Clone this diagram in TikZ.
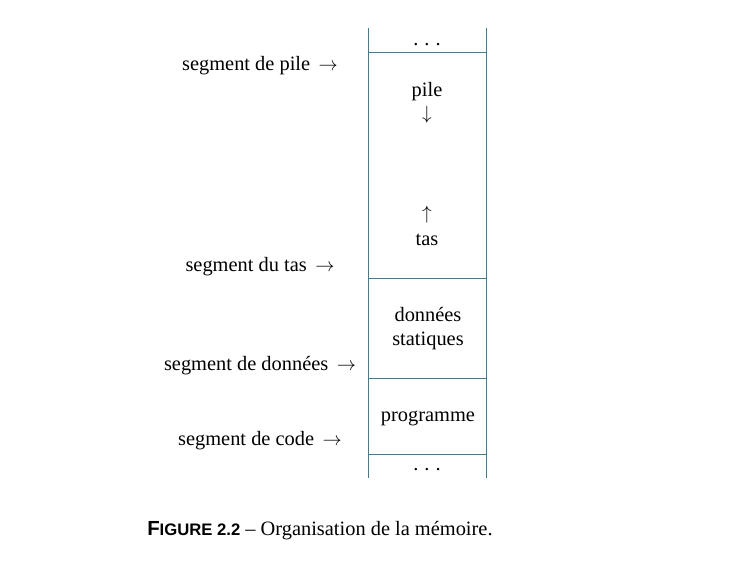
\documentclass[tikz,border=0pt]{standalone}
\usepackage{fontspec}
\setmainfont{Liberation Serif}
\setsansfont{Liberation Sans}
\usetikzlibrary{positioning}
\definecolor{memline}{HTML}{3F7C96}

\newcommand{\memdots}{.\hspace{4.5pt}.\hspace{4.5pt}.}

\begin{document}
\begin{tikzpicture}[x=0.75pt, y=-0.75pt,
  cell/.style={font=\fontsize{15.3}{18}\selectfont, align=center,
               inner sep=0pt, anchor=base},
  seg/.style={font=\fontsize{15.3}{18}\selectfont, inner sep=0pt, anchor=base},
  wall/.style={draw=memline, line width=0.7pt},
]
  \useasboundingbox (0,0) rectangle (754,561);

  %% Column of memory
  \coordinate (tl) at (368,28);  \coordinate (tr) at (486,28);
  \coordinate (bl) at (368,478); \coordinate (br) at (486,478);
  \draw[wall] (tl) -- (bl);
  \draw[wall] (tr) -- (br);
  \foreach \y in {52,278,378,454}
    \draw[wall] (368,\y) -- (486,\y);

  %% Contents of the cells
  \node[cell] (dtop)  at (427,45)  {\memdots};
  \node[cell] (pile)  at (427,96)  {pile};
  \node[cell] (down)  at (427,119) {$\downarrow$};
  \node[cell] (up)    at (427,219) {$\uparrow$};
  \node[cell] (tas)   at (427,245) {tas};
  \node[cell] (data)  at (428,321) {données};
  \node[cell] (stat)  at (428,345) {statiques};
  \node[cell] (prog)  at (428,421) {programme};
  \node[cell] (dbot)  at (427,470) {\memdots};

  %% Segment labels
  \node[seg] (spile) at (260,70)  {segment de pile \,$\rightarrow$};
  \node[seg] (stas)  at (260,271) {segment du tas \,$\rightarrow$};
  \node[seg] (sdata) at (260,370) {segment de données \,$\rightarrow$};
  \node[seg] (scode) at (260,445) {segment de code \,$\rightarrow$};

  %% Caption
  \node[seg, anchor=base west] (cap) at (147,535)
    {{\sffamily\bfseries F{\fontsize{12.5}{14}\selectfont IGURE 2.2}} -- Organisation de la mémoire.};
\end{tikzpicture}
\end{document}
